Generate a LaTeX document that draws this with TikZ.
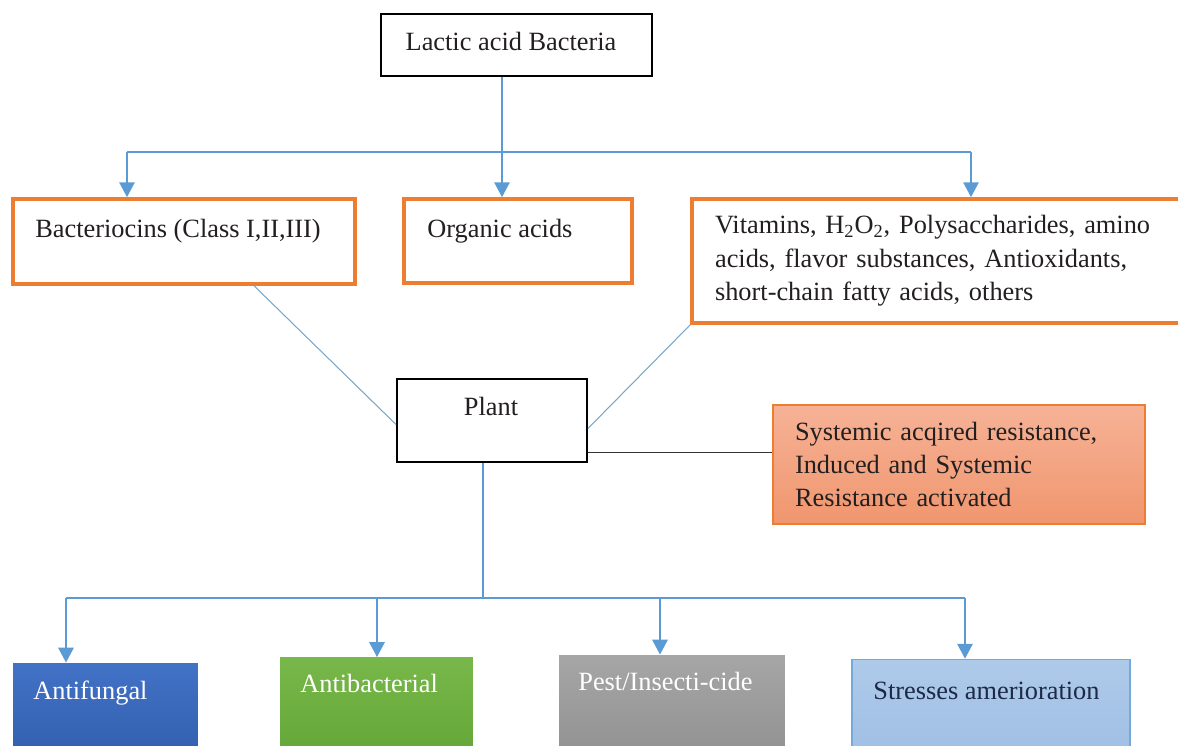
\documentclass[tikz,border=0pt]{standalone}
\usepackage{fontspec}
\setmainfont{Liberation Serif}
\usetikzlibrary{arrows.meta, positioning, calc}

\definecolor{lineblue}{HTML}{5B9BD5}
\definecolor{thinblue}{HTML}{7BA6C6}
\definecolor{boxorange}{HTML}{ED7D31}
\definecolor{textgray}{HTML}{231F20}
\definecolor{navytext}{HTML}{1C2A48}
\definecolor{sartop}{HTML}{F6B296}
\definecolor{sarbot}{HTML}{F0966E}
\definecolor{fungtop}{HTML}{4272C6}
\definecolor{fungbot}{HTML}{2E5AA8}
\definecolor{bacltop}{HTML}{78B84A}
\definecolor{baclbot}{HTML}{5EA132}
\definecolor{pesttop}{HTML}{A6A6A6}
\definecolor{pestbot}{HTML}{8C8C8C}
\definecolor{stresstop}{HTML}{AECAEA}
\definecolor{stressbot}{HTML}{9CBCE2}

\begin{document}
\begin{tikzpicture}[x=0.02cm, y=-0.02cm,
  every node/.style={font=\fontsize{15}{19}\selectfont, text=textgray},
  blackbox/.style={draw=black, line width=1.1pt, fill=white, inner sep=0},
  orangebox/.style={draw=boxorange, line width=2pt, fill=white, inner sep=0},
  txt/.style={inner sep=0, anchor=base west},
  trunk/.style={draw=lineblue, line width=0.9pt},
  arr/.style={draw=lineblue, line width=1.7pt, -{Triangle[length=3mm,width=3mm]}},
  link/.style={draw=thinblue, line width=0.6pt}]

\clip (0,0) rectangle (1178,745);

\node (lab) [blackbox, minimum width=5.42cm, minimum height=1.24cm] at (516.5,45) {};
\node (labt) [inner sep=0, anchor=base] at (511,50) {Lactic acid Bacteria};
\node (bact) [orangebox, minimum width=6.84cm, minimum height=1.7cm] at (184,241.5) {};
\node (bactt) [txt] at (35,237) {Bacteriocins (Class I,II,III)};
\node (orgac) [orangebox, minimum width=4.56cm, minimum height=1.68cm] at (518,241) {};
\node (orgact) [txt] at (427,237) {Organic acids};
\node (vit) [orangebox, minimum width=9.96cm, minimum height=2.48cm, inner xsep=0.46cm,
  text width=9.04cm, align=left] at (941,261)
  {Vitamins, H\textsubscript{2}O\textsubscript{2}, Polysaccharides, amino\\
   acids, flavor substances, Antioxidants,\\
   short-chain fatty acids, others};
\node (plant) [blackbox, minimum width=3.8cm, minimum height=1.66cm] at (492,420.5) {};
\node (plantt) [inner sep=0, anchor=base] at (491,415) {Plant};
\node (sar) [draw=boxorange, line width=0.8pt, top color=sartop, bottom color=sarbot,
  minimum width=7.44cm, minimum height=2.38cm,
  inner xsep=0.44cm, text width=6.56cm, align=left] at (959,464.5)
  {Systemic acqired resistance,\\
   Induced and Systemic\\
   Resistance activated};

% effects on the plant
\node (fung) [top color=fungtop, bottom color=fungbot,
  minimum width=3.7cm, minimum height=2.4cm] at (105.5,723) {};
\node (fungt) [txt, text=white] at (33,699) {Antifungal};
\node (bacl) [top color=bacltop, bottom color=baclbot,
  minimum width=3.86cm, minimum height=2.5cm] at (376.5,720) {};
\node (baclt) [txt, text=white] at (300,692) {Antibacterial};
\node (pest) [top color=pesttop, bottom color=pestbot,
  minimum width=4.52cm, minimum height=2.56cm] at (672,719) {};
\node (pestt) [txt, text=white] at (578,690) {Pest/Insecti-cide};
\node (stress) [draw=lineblue!85, line width=0.8pt, top color=stresstop, bottom color=stressbot,
  minimum width=5.56cm, minimum height=2.5cm] at (991,722) {};
\node (stresst) [txt, text=navytext] at (873,699) {Stresses amerioration};

% lactic acid bacteria products
\coordinate (j1) at (502,152);
\coordinate (tA) at (127,152);
\coordinate (tC) at (971,152);
\draw [trunk] (lab.south -| j1) -- (j1);
\draw [trunk] (tA) -- (tC);
\draw [arr] (tA) -- (tA |- bact.north);
\draw [arr] (j1) -- (j1 |- orgac.north);
\draw [arr] (tC) -- (tC |- vit.north);

\draw [link] ($(bact.south)+(70,0)$) -- ($(plant.west)+(0,4)$);
\draw [link] ($(plant.north)+(6,0)$ |- orgac.south) -- ($(plant.north)+(6,0)$);
\draw [link] (vit.south west) -- ($(plant.east)+(0,8)$);
\coordinate (p1) at ($(plant.east)+(0,32)$);
\draw [link, draw=black!80] (p1) -- (p1 -| sar.west);

\coordinate (j2) at (483,598);
\coordinate (bA) at (66,598);
\coordinate (bB) at (377,598);
\coordinate (bC) at (660,598);
\coordinate (bD) at (965,598);
\draw [trunk] (plant.south -| j2) -- (j2);
\draw [trunk] (bA) -- (bD);
\draw [arr] (bA) -- (bA |- fung.north);
\draw [arr] (bB) -- (bB |- bacl.north);
\draw [arr] (bC) -- (bC |- pest.north);
\draw [arr] (bD) -- (bD |- stress.north);

\end{tikzpicture}
\end{document}
